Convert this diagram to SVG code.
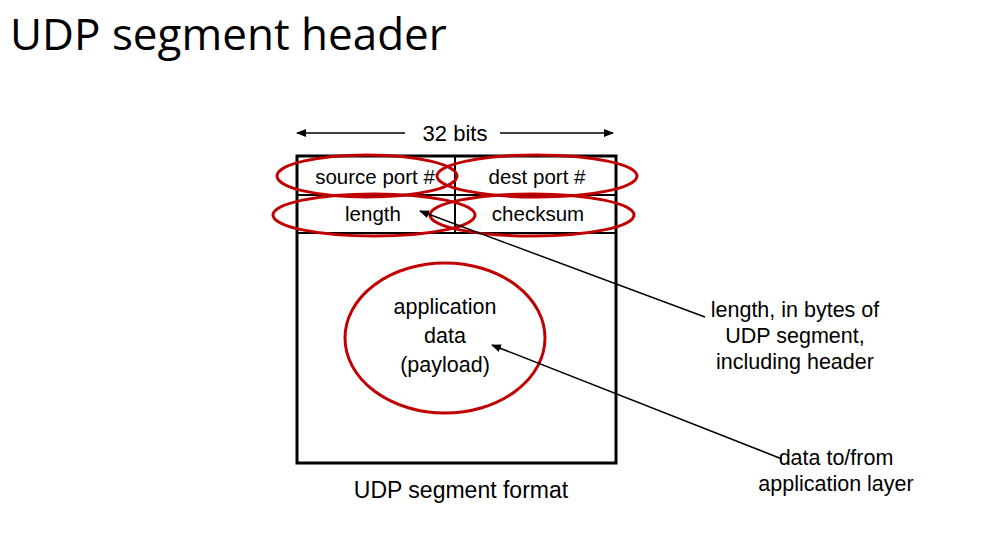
<svg xmlns="http://www.w3.org/2000/svg" width="991" height="547" viewBox="0 0 991 547">
<style>
text{font-family:"Liberation Sans",Arial,sans-serif;font-size:21.5px;fill:#000}
.e{fill:none;stroke:#c00000;stroke-width:3}
.l{stroke:#000;stroke-width:1.5;fill:none}
</style>
<defs><marker id="a" markerWidth="10" markerHeight="8" refX="9" refY="4" orient="auto" markerUnits="userSpaceOnUse"><path d="M0,0L10,4L0,8z" fill="#000"/></marker></defs>
<rect width="991" height="547" fill="#fff"/>
<text x="10" y="50" style="font-family:'Open Sans',sans-serif;font-size:44px">UDP segment header</text>
<g id="box">
<rect x="297" y="156" width="319" height="307" fill="none" stroke="#000" stroke-width="3"/>
<line x1="297" y1="195" x2="616" y2="195" stroke="#000" stroke-width="2"/>
<line x1="297" y1="233" x2="616" y2="233" stroke="#000" stroke-width="2"/>
<line x1="455" y1="156" x2="455" y2="233" stroke="#000" stroke-width="2"/>
</g>
<g id="labels" text-anchor="middle">
<text x="375" y="184" style="font-size:20.5px">source port #</text>
<text x="537" y="184" style="font-size:20.5px">dest port #</text>
<text x="373" y="221" style="font-size:20.5px">length</text>
<text x="538" y="221" style="font-size:20.5px">checksum</text>
<text x="445" y="314">application</text>
<text x="445" y="343">data</text>
<text x="445" y="372">(payload)</text>
<text x="455" y="141" style="font-size:22px">32 bits</text>
<text x="461" y="498" style="font-size:23px">UDP segment format</text>
<text x="795" y="317">length, in bytes of</text>
<text x="795" y="343">UDP segment,</text>
<text x="795" y="369">including header</text>
<text x="836" y="465">data to/from</text>
<text x="836" y="491">application layer</text>
</g>
<g id="ellipses">
<ellipse class="e" cx="367" cy="176" rx="90" ry="21"/>
<ellipse class="e" cx="537" cy="176" rx="100" ry="21"/>
<ellipse class="e" cx="374" cy="215" rx="101" ry="21"/>
<ellipse class="e" cx="532" cy="215" rx="102" ry="21"/>
<ellipse class="e" cx="445" cy="338" rx="100" ry="75"/>
</g>
<g id="connectors">
<line class="l" x1="405" y1="133" x2="297" y2="133" marker-end="url(#a)"/>
<line class="l" x1="500" y1="133" x2="613" y2="133" marker-end="url(#a)"/>
<line class="l" x1="705" y1="317" x2="420" y2="211" marker-end="url(#a)"/>
<line class="l" x1="782" y1="459" x2="492" y2="345" marker-end="url(#a)"/>
</g>
</svg>
